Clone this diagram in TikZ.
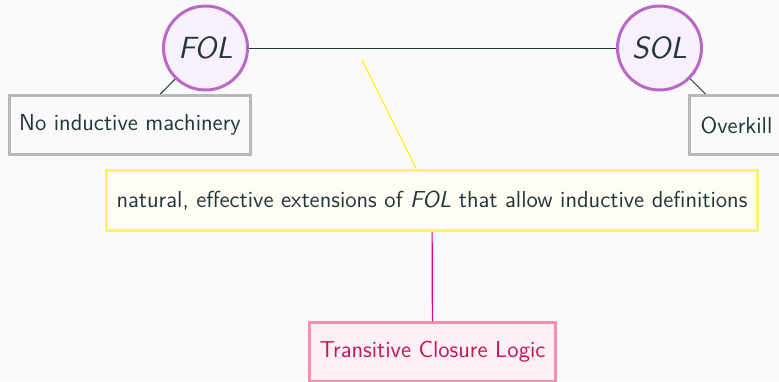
\documentclass[tikz,border=0pt]{standalone}
\usepackage{fontspec}
\renewcommand{\familydefault}{\sfdefault}
\definecolor{bgc}{HTML}{FAFAFA}
\definecolor{txt}{HTML}{23373B}
\definecolor{purp}{HTML}{BA68C8}
\definecolor{purpfill}{HTML}{F8F0FA}
\definecolor{grayb}{HTML}{B8B8B8}
\definecolor{yelb}{HTML}{FFF176}
\definecolor{yelfill}{HTML}{FFFEF4}
\definecolor{yelline}{HTML}{FFEE22}
\definecolor{pinkb}{HTML}{F48FB1}
\definecolor{pinkfill}{HTML}{FDF0F5}
\definecolor{pinktxt}{HTML}{C2185B}
\definecolor{magline}{HTML}{EC008C}
\tikzset{
  logicnode/.style={circle, draw=purp, fill=purpfill, line width=1.5pt, minimum size=42pt, inner sep=0pt, text=txt, font=\fontsize{15.3}{17}\selectfont\itshape},
  graybox/.style={rectangle, draw=grayb, fill=bgc, line width=1.5pt, minimum height=29.5pt, inner sep=0pt, text=txt, font=\fontsize{11.55}{13}\selectfont},
  yelbox/.style={rectangle, draw=yelb, fill=yelfill, line width=1.5pt, minimum height=30pt, inner sep=0pt, text=txt, font=\fontsize{11.55}{13}\selectfont},
  pinkbox/.style={rectangle, draw=pinkb, fill=pinkfill, line width=1.5pt, minimum height=29.5pt, inner sep=0pt, text=pinktxt, font=\fontsize{11.55}{13}\selectfont},
  thinline/.style={draw=txt, line width=0.5pt},
}
\begin{document}
\begin{tikzpicture}[x=0.5pt, y=-0.5pt]
\fill[bgc] (0,0) rectangle (779,381);
\useasboundingbox (0,0) rectangle (779,381);
\node[logicnode] (FOL) at (205.5,48) {FOL};
\node[logicnode] (SOL) at (659.5,48) {SOL};
\node[graybox, minimum width=120.5pt] (noind) at (130,125) {No inductive machinery};
\node[graybox, minimum width=47pt] (over) at (736.5,125) {Overkill};
\node[yelbox, minimum width=325.5pt] (ext) at (432,200.5) {natural, effective extensions of \textit{FOL} that allow inductive definitions};
\node[pinkbox, minimum width=123pt] (tcl) at (432.5,352) {Transitive Closure Logic};
\coordinate (yelstart) at (362,60);
\draw[thinline] (FOL) -- (SOL);
\draw[thinline] (FOL) -- (noind);
\draw[thinline] (SOL) -- (over);
\draw[yelline, line width=0.6pt] (yelstart) -- (ext);
\draw[magline, line width=0.6pt] (ext) -- (tcl);
\end{tikzpicture}
\end{document}
